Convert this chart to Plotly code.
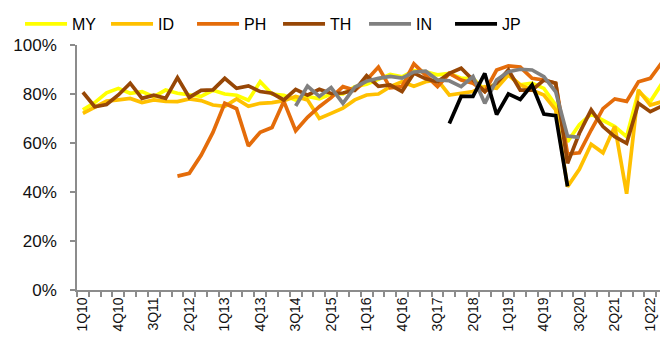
import plotly.graph_objects as go

quarters = [f"{q}Q{y:02d}" for y in range(10, 23) for q in range(1, 5)][:50]

MY = [73.5, 76.5, 80.5, 82.3, 80.3, 81.0, 78.9, 81.6, 80.3, 79.6,
      79.0, 81.5, 80.0, 79.5, 77.5, 85.0, 80.0, 79.5, 77.5, 79.0,
      78.0, 80.0, 80.0, 83.0, 84.0, 86.0, 88.0, 87.0, 89.5, 89.0,
      87.8, 88.4, 86.4, 86.4, 81.6, 84.4, 87.8, 83.7, 84.4, 82.3,
      75.5, 60.5, 67.5, 71.8, 69.4, 66.7, 62.6, 81.0, 76.9, 84.4]
ID = [72.1, 74.6, 77.1, 77.6, 78.2, 76.5, 77.6, 77.0, 76.9, 78.0,
      77.3, 75.5, 75.0, 78.0, 75.0, 76.2, 76.5, 77.3, 79.0, 77.6,
      70.0, 72.1, 74.2, 77.6, 79.6, 80.0, 83.0, 85.0, 83.2, 85.0,
      85.7, 79.6, 80.3, 81.0, 83.0, 82.3, 87.8, 83.7, 81.6, 79.6,
      73.5, 42.2, 49.3, 59.5, 56.0, 66.8, 39.3, 81.6, 75.5, 76.9]
PH = [None] * 8 + [
      46.5, 47.6, 55.0, 64.3, 76.2, 74.0, 58.8, 64.4, 66.3, 77.0,
      65.0, 70.5, 74.8, 78.5, 83.0, 81.5, 85.7, 91.0, 82.5, 83.0,
      92.3, 87.5, 83.0, 88.4, 85.7, 84.4, 81.0, 89.8, 91.5, 91.0,
      86.4, 85.7, 84.4, 55.5, 56.0, 65.3, 74.0, 78.0, 77.0, 85.0,
      86.4, 92.9]
TH = [80.7, 74.8, 75.7, 79.6, 84.4, 78.2, 79.5, 78.2, 86.7, 78.6,
      81.5, 81.7, 86.4, 82.3, 83.3, 81.0, 80.3, 77.6, 81.9, 79.5,
      81.9, 80.2, 80.4, 81.6, 87.5, 83.1, 83.7, 81.0, 88.5, 86.2,
      85.0, 88.4, 90.5, 85.7, 81.0, 84.4, 89.8, 81.6, 81.6, 85.7,
      84.4, 51.7, 64.0, 73.5, 66.7, 62.6, 59.9, 76.2, 72.8, 75.1]
IN = [None] * 18 + [
      75.1, 83.2, 79.0, 82.6, 76.2, 82.8, 85.2, 86.4, 87.2, 86.5,
      89.0, 89.3, 85.7, 85.4, 83.0, 87.1, 76.2, 85.7, 89.1, 90.1,
      89.8, 87.1, 80.9, 62.8, 62.3] + [None] * 7
JP = [None] * 31 + [
      68.0, 79.0, 79.0, 88.4, 71.6, 80.0, 77.8, 83.7, 71.8, 71.2,
      42.3] + [None] * 8

series = [("MY", MY, "#FFFF00"), ("ID", ID, "#FFC000"), ("PH", PH, "#E46C0A"),
          ("TH", TH, "#974706"), ("IN", IN, "#808080"), ("JP", JP, "#000000")]

tick_text = [q if i % 3 == 0 else "" for i, q in enumerate(quarters)]
y_ticks = [0, 20, 40, 60, 80, 100]
y_text = [f"{v}%" for v in y_ticks]

fig = go.Figure()
for name, vals, color in series:
    fig.add_trace(go.Scatter(x=quarters, y=vals, name=name, mode="lines",
                             line=dict(color=color, width=3.7),
                             connectgaps=False))

fig.update_layout(
    width=668, height=350,
    margin=dict(l=69, r=8, t=37, b=68, autoexpand=False),
    plot_bgcolor="white", paper_bgcolor="white",
    font=dict(family="Liberation Sans, Arial, sans-serif", color="#000000"),
    showlegend=True,
    legend=dict(orientation="h", xref="container", yref="paper",
                x=0.018, y=1.086, xanchor="left", yanchor="middle",
                itemwidth=42,
                entrywidth=29, entrywidthmode="pixels",
                font=dict(size=16, family="Liberation Sans Narrow, Liberation Sans, Arial, sans-serif"),
                bgcolor="rgba(0,0,0,0)", tracegroupgap=0),
    xaxis=dict(type="category", categoryorder="array", categoryarray=quarters,
               tickmode="array", tickvals=quarters, ticktext=tick_text,
               tickson="boundaries", ticks="outside", ticklen=5, tickcolor="#8c8c8c",
               tickwidth=1.5,
               showline=True, linecolor="#8c8c8c", linewidth=1.5,
               showgrid=False, zeroline=False, tickangle=-90,
               tickfont=dict(size=14, color="#111111"),
               range=[-0.5, 49.5]),
    yaxis=dict(range=[0, 100], tickmode="array", tickvals=y_ticks, ticktext=y_text,
               ticks="outside", ticklen=5, tickcolor="#8c8c8c", tickwidth=1.5,
               showline=True, linecolor="#8c8c8c", linewidth=1.5,
               showgrid=False, zeroline=False,
               tickfont=dict(size=17, color="#111111"),
               ticklabelstandoff=10),
)

fig.write_html("out.html")
